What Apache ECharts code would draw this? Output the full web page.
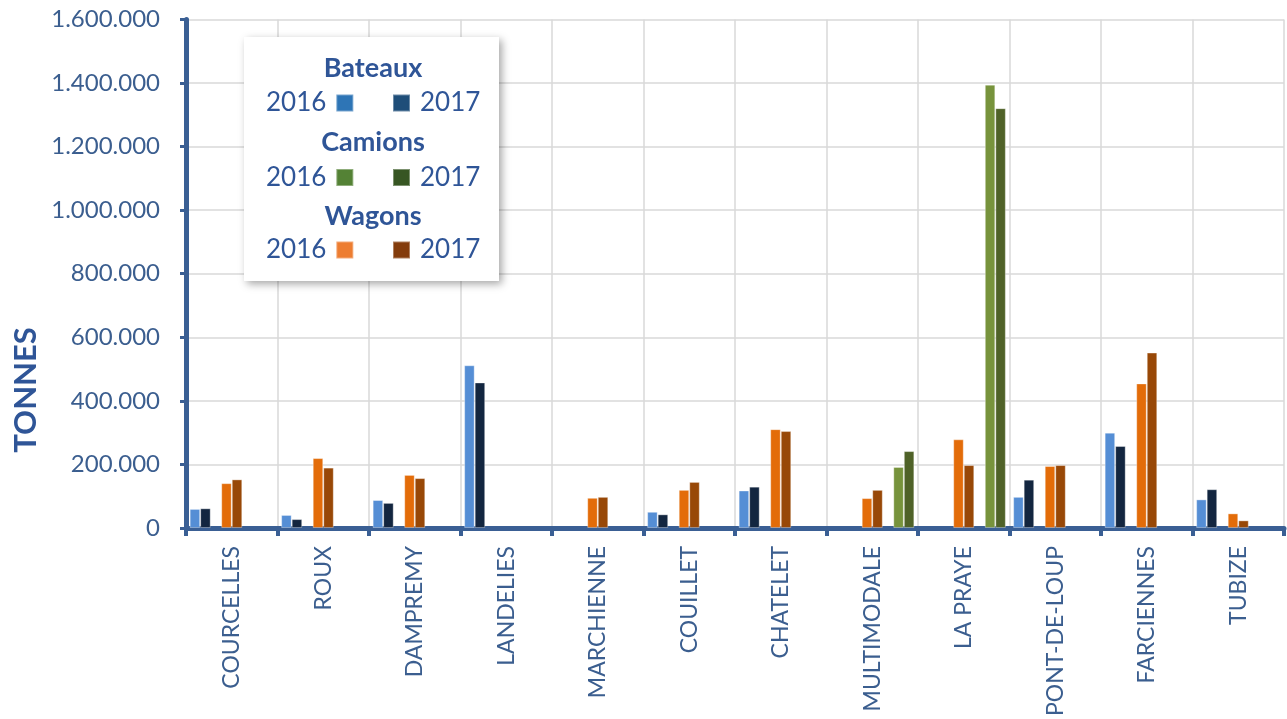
<!DOCTYPE html>
<html>
<head>
<meta charset="utf-8">
<script src="https://cdn.jsdelivr.net/npm/echarts@6/dist/echarts.min.js"></script>
<style>html,body{margin:0;padding:0;background:#fff}#c{width:1287px;height:719px}</style>
</head>
<body>
<div id="c"></div>
<script>
const categories = ['COURCELLES','ROUX','DAMPREMY','LANDELIES','MARCHIENNE','COUILLET','CHATELET','MULTIMODALE','LA PRAYE','PONT-DE-LOUP','FARCIENNES','TUBIZE'];
const bateaux2016 = [60000, 41000, 88000, 512000, '-', 51000, 118000, '-', '-', 98000, 300000, 90000];
const bateaux2017 = [62000, 28000, 79000, 458000, '-', 43000, 130000, '-', '-', 152000, 258000, 122000];
const wagons2016  = [141000, 220000, 167000, '-', 95000, 120000, 311000, 94000, 279000, 195000, 455000, 46000];
const wagons2017  = [153000, 190000, 157000, '-', 98000, 145000, 305000, 120000, 198000, 198000, 552000, 24000];
const camions2016 = ['-', '-', '-', '-', '-', '-', '-', 192000, 1395000, '-', '-', '-'];
const camions2017 = ['-', '-', '-', '-', '-', '-', '-', 242000, 1321000, '-', '-', '-'];
const yTicks = [0, 200000, 400000, 600000, 800000, 1000000, 1200000, 1400000, 1600000];
const empty = categories.map(() => '-');

const BLUE = '#2F5597';
const FONT = 'Lato';

function fmt(v) {
  return String(v).replace(/\B(?=(\d{3})+(?!\d))/g, '.');
}

function bar(name, data, color) {
  return { name, type: 'bar', data, barGap: 0, barCategoryGap: '8%',
    itemStyle: { color, borderColor: 'rgba(255,255,255,0.35)', borderWidth: 1 } };
}

function leg(name, color, left, centerY, side) {
  return {
    data: [{ name, itemStyle: { color } }],
    left, top: centerY - 13, padding: 0,
    align: side, icon: 'rect', itemWidth: 17, itemHeight: 17,
    selectedMode: false,
    formatter: n => n.split(' ')[1],
    textStyle: { fontFamily: FONT, fontSize: 26, color: BLUE, lineHeight: 26,
      padding: side === 'right' ? [0, 5, 0, 0] : [0, 0, 0, 5] },
    z: 6
  };
}

const chart = echarts.init(document.getElementById('c'), null, { renderer: 'canvas' });
chart.setOption({
  animation: false,
  backgroundColor: '#fff',
  grid: { left: 186, right: 3, top: 19.5, bottom: 189.5, containLabel: false },
  xAxis: {
    type: 'category', data: categories,
    axisLine: { show: true, lineStyle: { color: '#3A5F94', width: 5 } },
    axisTick: { show: true, length: 8, lineStyle: { color: '#3A5F94', width: 4 } },
    splitLine: { show: true, interval: 0, lineStyle: { color: '#d9d9d9', width: 1.5 } },
    axisLabel: { rotate: 90, interval: 0, margin: 18, fontFamily: FONT, fontSize: 23, color: '#3B5E8F' }
  },
  yAxis: {
    type: 'value', min: yTicks[0], max: yTicks[yTicks.length - 1], interval: yTicks[1] - yTicks[0],
    axisLine: { show: true, lineStyle: { color: '#3A5F94', width: 5 } },
    axisTick: { show: true, length: 6, lineStyle: { color: '#3A5F94', width: 3 } },
    splitLine: { show: true, lineStyle: { color: '#d9d9d9', width: 1.5 } },
    axisLabel: { margin: 26, fontFamily: FONT, fontSize: 24, color: '#3B5E8F', formatter: fmt }
  },
  legend: [
    leg('Bateaux 2016', '#2E75B6', 266, 103, 'right'),
    leg('Bateaux 2017', '#1F4E79', 392, 103, 'left'),
    leg('Camions 2016', '#548235', 266, 177.5, 'right'),
    leg('Camions 2017', '#375623', 392, 177.5, 'left'),
    leg('Wagons 2016', '#ED7D31', 266, 250, 'right'),
    leg('Wagons 2017', '#843C0C', 392, 250, 'left')
  ],
  graphic: [
    { type: 'rect', z: 3, shape: { x: 244, y: 37, width: 255, height: 244 },
      style: { fill: '#fff', shadowBlur: 8, shadowColor: 'rgba(0,0,0,0.35)', shadowOffsetX: 3, shadowOffsetY: 3 } },
    { type: 'text', z: 6, style: { text: 'Bateaux', x: 373, y: 68, align: 'center', verticalAlign: 'middle', fontFamily: FONT, fontWeight: 'bold', fontSize: 27, fill: BLUE } },
    { type: 'text', z: 6, style: { text: 'Camions', x: 373, y: 142, align: 'center', verticalAlign: 'middle', fontFamily: FONT, fontWeight: 'bold', fontSize: 27, fill: BLUE } },
    { type: 'text', z: 6, style: { text: 'Wagons', x: 373, y: 216, align: 'center', verticalAlign: 'middle', fontFamily: FONT, fontWeight: 'bold', fontSize: 27, fill: BLUE } },
    { type: 'text', z: 6, x: 26, y: 390, rotation: Math.PI / 2,
      style: { text: 'TONNES', x: 0, y: 0, align: 'center', verticalAlign: 'middle', fontFamily: FONT, fontWeight: 'bold', fontSize: 31, fill: BLUE } }
  ],
  series: [
    bar('Bateaux 2016', bateaux2016, '#558ED5'),
    bar('Bateaux 2017', bateaux2017, '#132640'),
    bar('_gap1', empty, 'transparent'),
    bar('Wagons 2016', wagons2016, '#E36C09'),
    bar('Wagons 2017', wagons2017, '#984807'),
    bar('_gap2', empty, 'transparent'),
    bar('Camions 2016', camions2016, '#77933C'),
    bar('Camions 2017', camions2017, '#4F6228')
  ]
});
</script>
</body>
</html>
